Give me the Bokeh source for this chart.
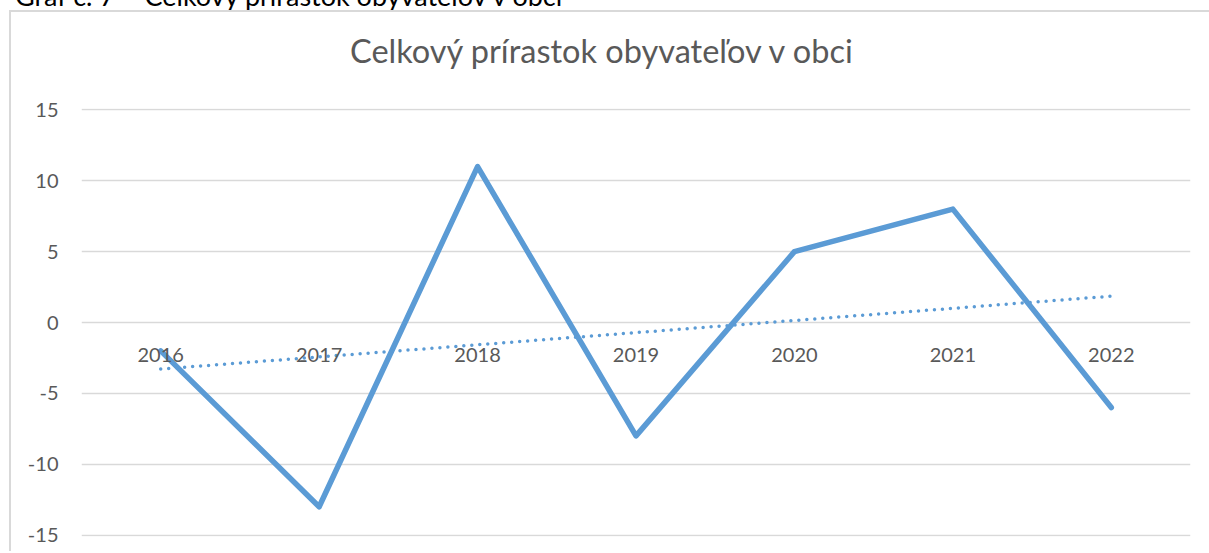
import numpy as np
from bokeh.plotting import figure
from bokeh.models import Div, FactorRange, Range1d, FixedTicker
from bokeh.layouts import column
from bokeh.embed import file_html
from bokeh.resources import INLINE
from bokeh.core.properties import value

# ---- data ----
years = ["2016", "2017", "2018", "2019", "2020", "2021", "2022"]
growth = [-2, -13, 11, -8, 5, 8, -6]
y_ticks = [-15, -10, -5, 0, 5, 10, 15]
title_text = "Celkový prírastok obyvateľov v obci"
caption_text = "Graf č. 7 – Celkový prírastok obyvateľov v obci"

# linear trend line (least squares over the series)
xi = np.arange(1, len(years) + 1)
slope, intercept = np.polyfit(xi, growth, 1)
trend = list(slope * xi + intercept)

BLUE = "#5B9BD5"
GREY = "#595959"
FONT = "Lato"

caption = Div(
    text=caption_text,
    width=1000, height=9,
    margin=(-9, 0, 0, 15),
    styles={"font-family": FONT, "font-size": "27px", "color": "#000000",
            "line-height": "9px", "white-space": "nowrap"},
)

title = Div(
    text=title_text,
    width=800, height=40,
    margin=(19, 0, 0, 339),
    styles={"font-family": FONT, "font-size": "32.5px", "color": GREY,
            "line-height": "40px", "white-space": "nowrap"},
)

p = figure(
    width=1198, height=480,
    x_range=FactorRange(*years, range_padding=0),
    y_range=Range1d(-15.1, 15.1),
    output_backend="svg", toolbar_location=None,
    min_border_left=70, min_border_right=19,
    min_border_top=37, min_border_bottom=15,
)

p.outline_line_color = None
p.background_fill_color = "white"
p.border_fill_color = "white"

p.xaxis.visible = False
p.xgrid.grid_line_color = None

p.yaxis.ticker = FixedTicker(ticks=y_ticks)
p.yaxis.major_label_overrides = {t: str(t) for t in y_ticks}
p.yaxis.axis_line_color = None
p.yaxis.major_tick_line_color = None
p.yaxis.minor_tick_line_color = None
p.yaxis.major_tick_out = 0
p.yaxis.major_label_standoff = 23
p.yaxis.major_label_text_font = FONT
p.yaxis.major_label_text_font_size = "20px"
p.yaxis.major_label_text_color = GREY

p.ygrid.ticker = FixedTicker(ticks=y_ticks)
p.ygrid.grid_line_color = "#d9d9d9"
p.ygrid.grid_line_width = 1.5

p.line(years, growth, line_color=BLUE, line_width=5.5,
       line_join="round", line_cap="round")
p.line(years, trend, line_color=BLUE, line_width=3.5,
       line_dash="0 8", line_cap="round")

p.text(x=years, y=[0] * len(years), text=years,
       text_align="center", text_baseline="middle", y_offset=32,
       text_font=value(FONT), text_font_size="20px", text_color=GREY)

chart = column(title, p, spacing=0, margin=(10, 0, 0, 9))
chart.styles = {"border-top": "2px solid #d9d9d9", "border-left": "2px solid #d9d9d9",
                "background-color": "white"}

layout = column(caption, chart, spacing=0)

open("out.html", "w").write(file_html(layout, INLINE))
